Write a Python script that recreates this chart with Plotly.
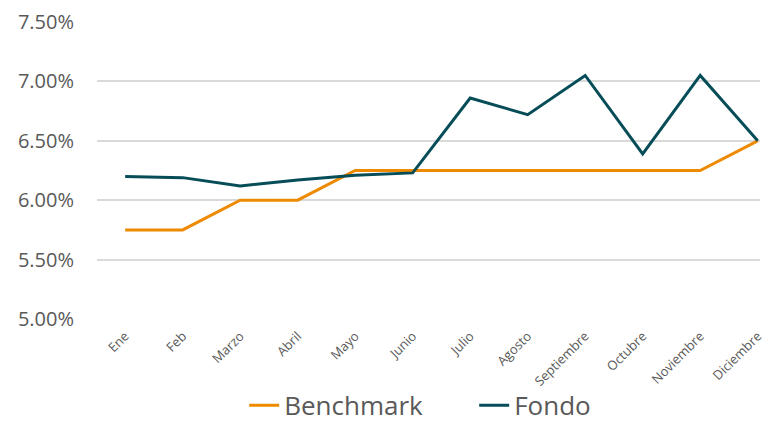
import plotly.graph_objects as go

meses = ["Ene", "Feb", "Marzo", "Abril", "Mayo", "Junio", "Julio", "Agosto",
         "Septiembre", "Octubre", "Noviembre", "Diciembre"]
benchmark = [0.0575, 0.0575, 0.0600, 0.0600, 0.0625, 0.0625, 0.0625, 0.0625,
             0.0625, 0.0625, 0.0625, 0.0650]
fondo = [0.0620, 0.0619, 0.0612, 0.0617, 0.0621, 0.0623, 0.0686, 0.0672,
         0.0705, 0.0639, 0.0705, 0.0650]
y_ticks = [0.050, 0.055, 0.060, 0.065, 0.070, 0.075]

FONT = "Open Sans, Liberation Sans, sans-serif"

fig = go.Figure()
fig.add_trace(go.Scatter(x=meses, y=benchmark, mode="lines", name="Benchmark",
                         line=dict(color="#EE8A00", width=3)))
fig.add_trace(go.Scatter(x=meses, y=fondo, mode="lines", name="Fondo",
                         line=dict(color="#064D58", width=3)))

fig.update_layout(
    width=768, height=414,
    margin=dict(l=89, r=16, t=14, b=103),
    paper_bgcolor="white", plot_bgcolor="white",
    font=dict(family=FONT, color="#595959"),
    showlegend=True,
    legend=dict(orientation="h", x=0.222, xanchor="left",
                yref="container", y=0.04, yanchor="middle",
                font=dict(size=26, color="#595959"),
                entrywidth=185, entrywidthmode="pixels",
                bgcolor="rgba(0,0,0,0)"),
)
fig.update_xaxes(
    type="category", range=[-0.49, 11.04], showgrid=False, showline=False,
    zeroline=False, tickangle=-45, tickfont=dict(size=13, color="#595959"),
    ticks="", ticklabelstandoff=6, automargin=False,
)
fig.update_yaxes(
    range=[0.05, 0.075], tickvals=y_ticks, tickformat=".2%",
    showgrid=True, gridcolor="#D9D9D9", gridwidth=1.5, zeroline=False,
    showline=False, tickfont=dict(size=20, color="#595959"), ticks="",
    ticklabelstandoff=22, automargin=False,
)

fig.write_html("out.html")
